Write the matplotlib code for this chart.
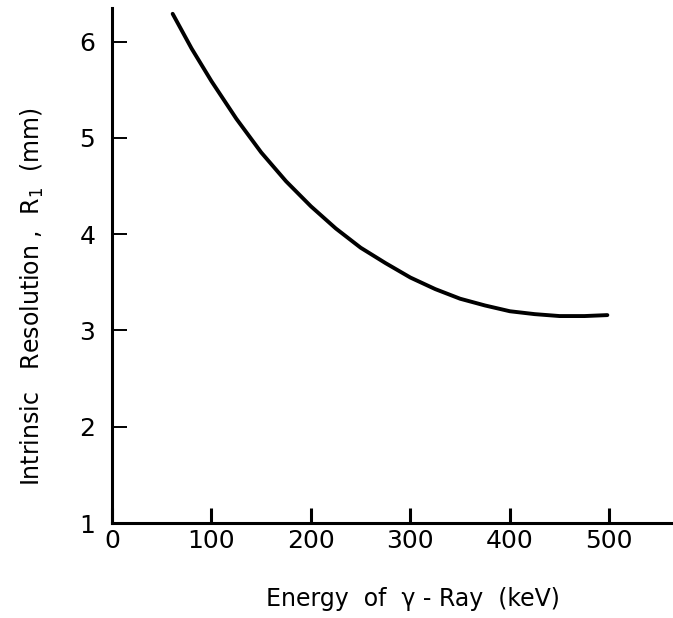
import matplotlib
matplotlib.use("Agg")
import matplotlib.pyplot as plt

# values
energy_kev = [61, 80, 100, 125, 150, 175, 200, 225, 250, 275, 300, 325, 350, 375, 400, 425, 450, 475, 498]
resolution_mm = [6.29, 5.93, 5.59, 5.20, 4.85, 4.55, 4.29, 4.06, 3.86, 3.70, 3.55, 3.43, 3.33, 3.26, 3.20, 3.17, 3.15, 3.15, 3.16]

x_ticks = [0, 100, 200, 300, 400, 500]
y_ticks = [1, 2, 3, 4, 5, 6]

fig = plt.figure(figsize=(6.73, 6.18), dpi=100)
ax = fig.add_axes([0.1664, 0.1537, 0.8336, 0.8333])

ax.plot(energy_kev, resolution_mm, color="black", linewidth=2.8, solid_capstyle="round")

ax.set_xlim(0, 564)
ax.set_ylim(1.03, 6.35)
ax.set_xticks(x_ticks)
ax.set_yticks(y_ticks)
ax.set_xticklabels([str(v) for v in x_ticks])
ax.set_yticklabels([str(v) for v in y_ticks])

ax.tick_params(axis="x", direction="in", length=11, width=2.2, pad=4, labelsize=18)
ax.tick_params(axis="y", direction="in", length=11, width=1.4, pad=12, labelsize=18)

for side in ["top", "right"]:
    ax.spines[side].set_visible(False)
for side in ["left", "bottom"]:
    ax.spines[side].set_linewidth(2.2)

ax.set_xlabel("Energy  of  γ - Ray  (keV)", fontsize=17)
ax.set_ylabel("Intrinsic   Resolution ,  R$_1$  (mm)", fontsize=17)
ax.xaxis.set_label_coords(0.537, -0.124)
ax.yaxis.set_label_coords(-0.118, 0.44)

fig.savefig("out.png", dpi=100)
